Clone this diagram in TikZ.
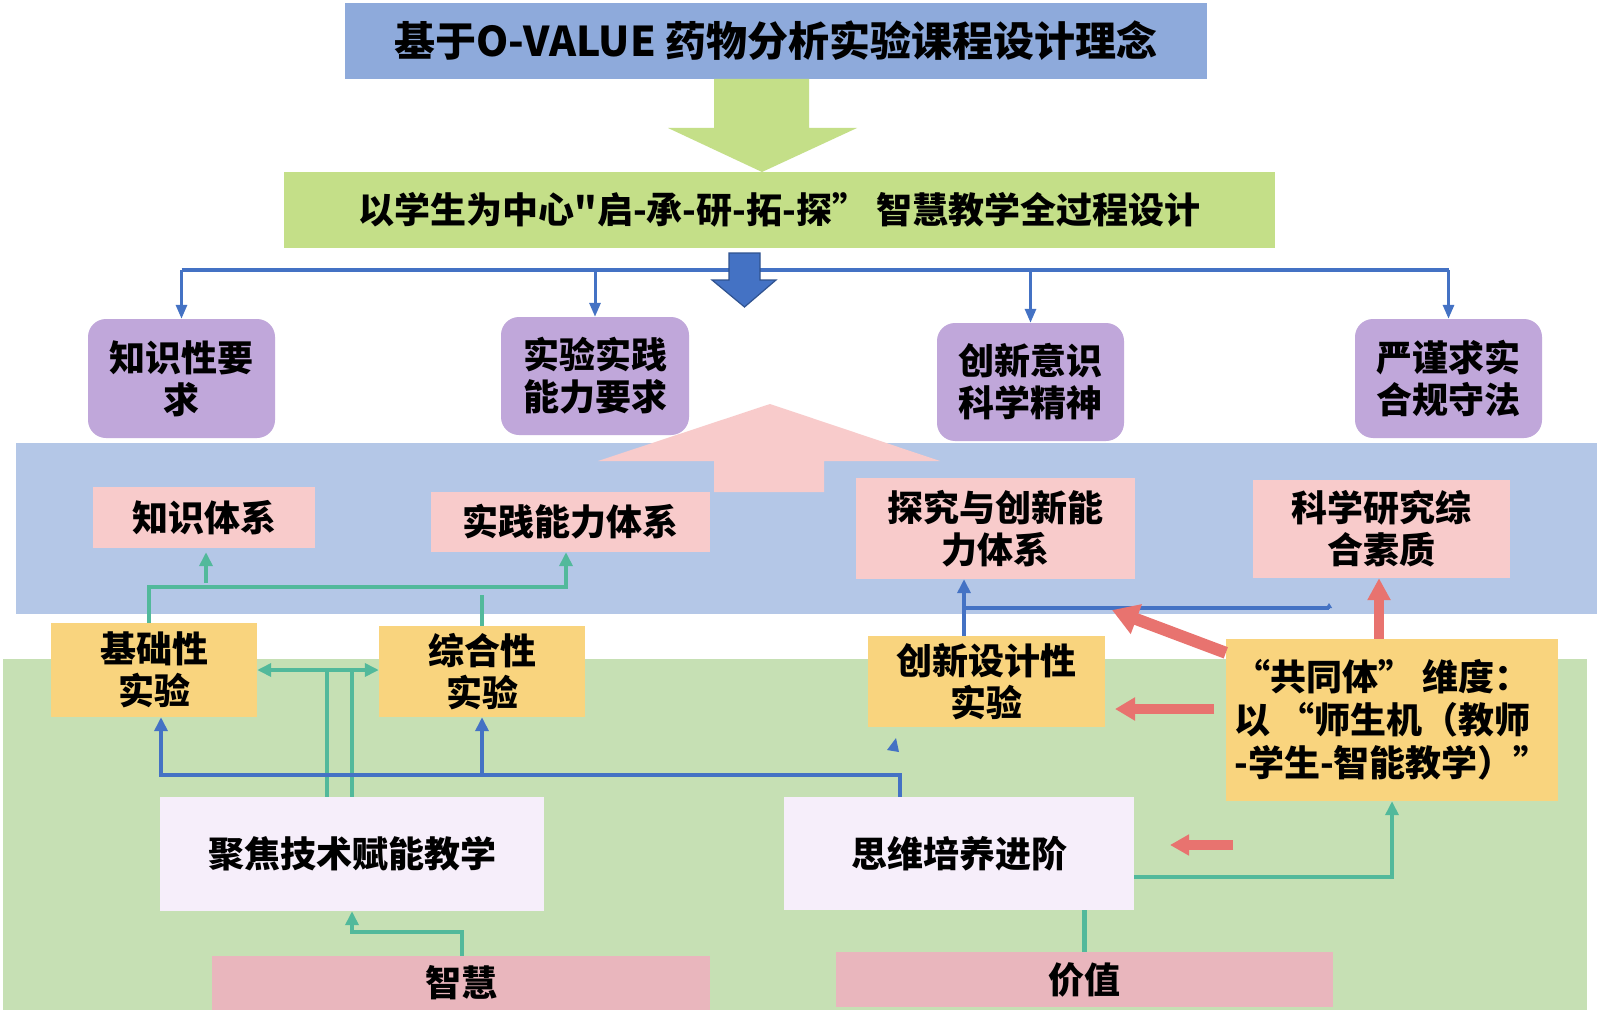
\documentclass[tikz,border=0pt]{standalone}
\usepackage{fontspec}
\setmainfont{Noto Sans CJK SC}
\newfontfamily\cjkplain{Noto Sans CJK SC}
\usetikzlibrary{arrows.meta}
\definecolor{titleblue}{HTML}{8EAADB}
\definecolor{lgreen}{HTML}{C4DF88}
\definecolor{bandblue}{HTML}{B4C7E7}
\definecolor{bandgreen}{HTML}{C6E0B4}
\definecolor{purplec}{HTML}{C0A7DA}
\definecolor{pinkc}{HTML}{F8CBCB}
\definecolor{yellowc}{HTML}{F9D47E}
\definecolor{lavc}{HTML}{F6EEFA}
\definecolor{dpink}{HTML}{E9B6BD}
\definecolor{tealc}{HTML}{52B99B}
\definecolor{redc}{HTML}{E8736F}
\definecolor{myblue}{HTML}{4472C4}
\definecolor{darkblue}{HTML}{2F528F}
\begin{document}
\begin{tikzpicture}[x=1pt,y=-1pt,
  box/.style={draw=none, inner sep=0pt, align=center, text=black,
    font=\cjkplain\fontsize{36}{42}\selectfont\bfseries},
  pbox/.style={box, fill=purplec, rounded corners=18pt},
  bline/.style={draw=myblue, line width=4.5pt},
  tline/.style={draw=tealc, line width=4.5pt},
  rline/.style={draw=redc},
  tip/.style={-{Triangle[length=14pt,width=13pt]}}
]
\useasboundingbox (0,0) rectangle (1600,1011);
\fill[white] (0,0) rectangle (1600,1011);

% background bands
\fill[bandblue] (16,443) rectangle (1597,614);
\fill[bandgreen] (3,659) rectangle (1587,1010);

% pink up arrow
\fill[pinkc] (770,404) -- (940,461) -- (824,461) -- (824,492) -- (714,492) -- (714,461) -- (598,461) -- cycle;

% top boxes
\node[box, fill=titleblue, minimum width=862pt, minimum height=76pt,
  font=\cjkplain\fontsize{41}{46}\selectfont\bfseries] (title) at (776,41) {基于O-VALUE 药物分析实验课程设计理念};
\fill[lgreen] (714,79) -- (809,79) -- (809,128) -- (857,128) -- (762,172) -- (668,128) -- (714,128) -- cycle;
\node[box, fill=lgreen, minimum width=991pt, minimum height=76pt] (design) at (779.5,210)
  {以学生为中心"启-承-研-拓-探” 智慧教学全过程设计};

% purple boxes
\node[pbox, minimum width=187pt, minimum height=119pt] (k1) at (181.5,378.5) {知识性要\\求};
\node[pbox, minimum width=188pt, minimum height=118pt] (k2) at (595,376) {实验实践\\能力要求};
\node[pbox, minimum width=187pt, minimum height=118pt] (k3) at (1030.5,382) {创新意识\\科学精神};
\node[pbox, minimum width=187pt, minimum height=119pt] (k4) at (1448.5,378.5) {严谨求实\\合规守法};

% pink boxes
\node[box, fill=pinkc, minimum width=222pt, minimum height=61pt] (p1) at (204,517.5) {知识体系};
\node[box, fill=pinkc, minimum width=279pt, minimum height=60pt] (p2) at (570.5,522) {实践能力体系};
\node[box, fill=pinkc, minimum width=279pt, minimum height=101pt] (p3) at (995.5,528.5) {探究与创新能\\力体系};
\node[box, fill=pinkc, minimum width=257pt, minimum height=98pt] (p4) at (1381.5,529) {科学研究综\\合素质};

% yellow boxes
\node[box, fill=yellowc, minimum width=206pt, minimum height=94pt] (y1) at (154,670) {基础性\\实验};
\node[box, fill=yellowc, minimum width=206pt, minimum height=91pt] (y2) at (482,671.5) {综合性\\实验};
\node[box, fill=yellowc, minimum width=237pt, minimum height=91pt] (y3) at (986.5,681.5) {创新设计性\\实验};
\node[box, fill=yellowc, minimum width=332pt, minimum height=162pt, align=left,
  font=\cjkplain\fontsize{36}{43}\selectfont\bfseries] (y4) at (1392,720)
  {“共同体” 维度：\\以 “师生机（教师\\-学生-智能教学）”};

% lavender boxes
\node[box, fill=lavc, minimum width=384pt, minimum height=114pt] (w1) at (352,854) {聚焦技术赋能教学};
\node[box, fill=lavc, minimum width=350pt, minimum height=113pt] (w2) at (959,853.5) {思维培养进阶};

% bottom boxes
\node[box, fill=dpink, minimum width=498pt, minimum height=54pt] (b1) at (461,983) {智慧};
\node[box, fill=dpink, minimum width=497pt, minimum height=55pt] (b2) at (1084.5,979.5) {价值};

% top blue bar
\coordinate (bar) at (0,270);
\draw[bline, line width=4pt] (k1.north |- bar) -- (k4.north |- bar);
\foreach \k in {k1,k2,k3,k4}
  \draw[bline, line width=3pt, -{Triangle[length=14pt,width=11pt]}] (\k.north |- bar) -- (\k.north);
\filldraw[fill=myblue, draw=darkblue, line width=1.2pt] (729,253) -- (760,253) -- (760,280) -- (776,280) -- (744.5,307) -- (712,280) -- (729,280) -- cycle;

% teal connectors
\coordinate (tj) at (566,587);
\draw[tline, tip] ([xshift=-5pt]y1.north) |- (tj) -- (tj |- p2.south);
\coordinate (tk) at (206,583);
\draw[tline, tip, shorten >=4pt] (tk) -- (tk |- p1.south);
\coordinate (tm) at (482,595);
\draw[tline] (y2.north) -- (tm);
\draw[tline, {Triangle[length=14pt,width=13pt]}-{Triangle[length=14pt,width=13pt]}] (y1.east) -- (y1.east -| y2.west);
\draw[tline] (w1.north) -- (w1.north |- y1.east);
\draw[tline] ([xshift=-25pt]w1.north) -- ([xshift=-25pt]w1.north |- y1.east);
\coordinate (c6) at (352,932);
\draw[tline, tip] ([xshift=1pt]b1.north) |- (c6) -- (w1.south);
\draw[tline] (b2.north) -- (b2.north |- w2.south);
\coordinate (c8) at (0,877);
\draw[tline, tip] (w2.east |- c8) -| (y4.south);

% blue connectors
\coordinate (cb) at (161,775);
\draw[bline, tip] ([xshift=-59pt]w2.north) |- (cb) -- (cb |- y1.south);
\draw[bline, tip] (y2.south |- cb) -- (y2.south);
\draw[bline, tip] ([xshift=-22.5pt]y3.north) -- ([xshift=-22.5pt]y3.north |- p3.south);
\coordinate (cq1) at (964,608);
\coordinate (cq2) at (1329,608);
\draw[bline] (cq1) -- (cq2);
\draw[bline, line width=2pt, -{Triangle[length=5pt,width=6pt]}] (cq2) -- ++(0,-5);
\fill[myblue] (887,750) -- (899,752) -- (896,738) -- cycle;

% red arrows
\coordinate (r1) at (1112,610);
\draw[rline, line width=12pt, -{Triangle[length=26pt,width=30pt]}] ([yshift=-14pt]y4.north west) -- (r1);
\draw[rline, line width=10pt, -{Triangle[length=22pt,width=22pt]}] ([xshift=-13pt]y4.north) -- ([xshift=-13pt]y4.north |- p4.south);
\coordinate (r3a) at (1214,709);
\coordinate (r3b) at (1115,709);
\draw[rline, line width=10.5pt, -{Triangle[length=20pt,width=22pt]}] (r3a) -- (r3b);
\coordinate (r4a) at (1233,845);
\coordinate (r4b) at (1170,845);
\draw[rline, line width=9.5pt, -{Triangle[length=19pt,width=20pt]}] (r4a) -- (r4b);
\end{tikzpicture}
\end{document}
